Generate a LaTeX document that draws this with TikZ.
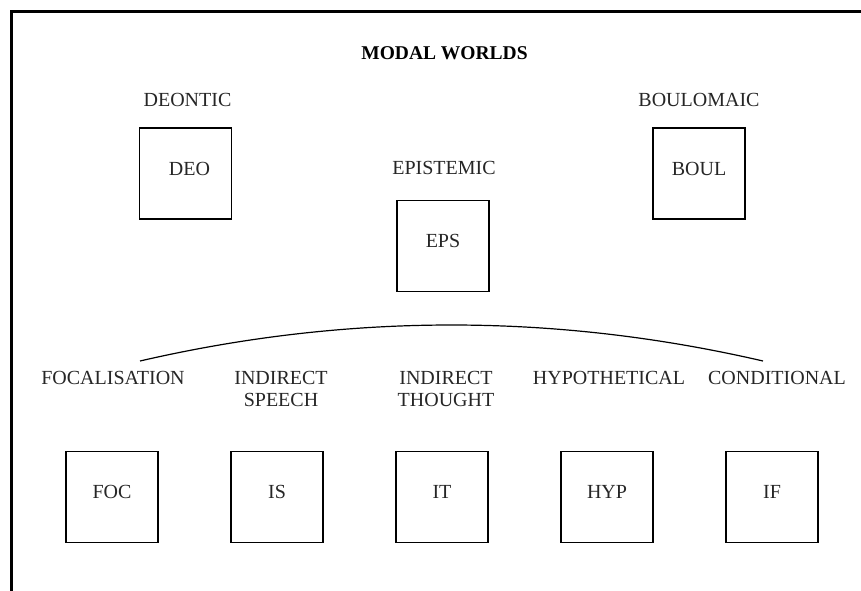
\documentclass[tikz,border=0pt]{standalone}
\usepackage{fontspec}
\setmainfont{Liberation Serif}
\begin{document}
\begin{tikzpicture}[x=1pt,y=-1pt,
  world/.style={draw, line width=1.3pt, minimum width=92pt, minimum height=91pt, inner sep=0pt},
  tag/.style={font=\fontsize{20}{22.5}\selectfont, align=center, inner sep=0pt, text=black!85},
  boxtext/.style={tag, yshift=5pt},
  title/.style={font=\fontsize{19.5}{22}\selectfont\bfseries, inner sep=0pt},
  frame/.style={line width=2.4pt, line cap=rect},
  bracket/.style={line width=1.2pt}]
\useasboundingbox (0,0) rectangle (861,590);

% open frame: left and top edges
\coordinate (fbl) at (11.5,592);
\coordinate (ftl) at (11.5,11.5);
\coordinate (ftr) at (863,11.5);
\draw[frame] (fbl) -- (ftl) -- (ftr);

% heading
\node[title, anchor=north] (head) at (444.5,46) {MODAL WORLDS};

% upper worlds
\node[tag, anchor=north] (deolab) at (187.5,93) {DEONTIC};
\node[world, label={[boxtext, xshift=4pt]center:DEO}] (deo) at (185.5,173.5) {};
\node[tag, anchor=north] (boullab) at (699,93) {BOULOMAIC};
\node[world, label={[boxtext]center:BOUL}] (boul) at (699,173.5) {};
\node[tag, anchor=north] (epslab) at (444,161) {EPISTEMIC};
\node[world, label={[boxtext]center:EPS}] (eps) at (443,246) {};

% bracket over the lower worlds
\coordinate (brl) at (140,361);
\coordinate (brr) at (763,361);
\draw[bracket] (brl) .. controls (347.7,313) and (555.3,313) .. (brr);

% lower worlds
\node[tag, anchor=north] (foclab) at (113,371) {FOCALISATION};
\node[tag, anchor=north] (islab) at (281,371) {INDIRECT\\SPEECH};
\node[tag, anchor=north] (itlab) at (446,371) {INDIRECT\\THOUGHT};
\node[tag, anchor=north] (hyplab) at (609,371) {HYPOTHETICAL};
\node[tag, anchor=north] (iflab) at (777,371) {CONDITIONAL};

\node[world, label={[boxtext]center:FOC}] (foc) at (112,497) {};
\node[world, label={[boxtext]center:IS}] (is) at (277,497) {};
\node[world, label={[boxtext]center:IT}] (it) at (442,497) {};
\node[world, label={[boxtext]center:HYP}] (hyp) at (607,497) {};
\node[world, label={[boxtext]center:IF}] (if) at (772,497) {};
\end{tikzpicture}
\end{document}
